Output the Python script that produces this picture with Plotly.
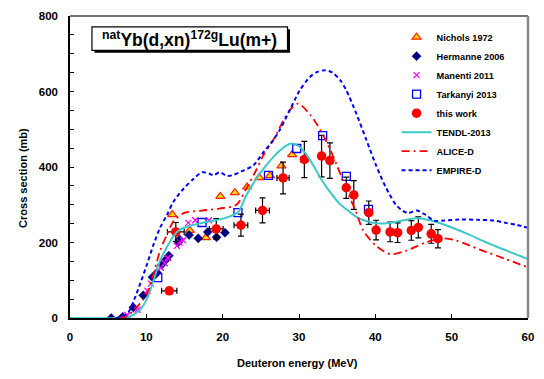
import plotly.graph_objects as go

# ---------------- data ----------------
nichols_x = [13.4, 15.7, 17.8, 19.7, 21.6, 23.2, 24.8, 26.2, 27.7, 29.1]
nichols_y = [274, 232, 213, 322, 332, 347, 372, 377, 403, 433]

hermanne_x = [5.4, 6.9, 8.3, 9.6, 10.8, 11.4, 12.0, 12.6, 12.95, 14.2, 14.35, 15.6, 16.8, 18.05, 19.2, 20.3]
hermanne_y = [0, 3, 28, 60, 108, 120, 141, 155, 165, 201, 208, 220, 211, 228, 214, 226]

manenti_x = [7.5, 8.85, 10.15, 10.6, 11.9, 12.4, 12.8, 14.0, 14.35, 14.8, 15.5, 16.4, 18.2]
manenti_y = [8, 22, 72, 91, 133, 145, 159, 191, 200, 206, 252, 259, 259]

tarkanyi_x = [11.5, 17.3, 22.0, 26.0, 29.7, 33.1, 36.2, 39.1]
tarkanyi_y = [107, 253, 279, 378, 449, 483, 375, 288]

work_x = [13.0, 13.86, 19.16, 22.39, 25.22, 27.91, 30.7, 32.96, 34.05, 36.19, 37.18,
          39.14, 40.1, 41.93, 42.92, 44.71, 45.63, 47.32, 48.2]
work_y = [72, 228, 236, 246, 285, 371, 420, 429, 417, 345, 326, 279, 233, 228, 226, 232, 240, 223, 210]
work_dy = [4, 25, 27, 29, 33, 42, 48, 55, 47, 28, 38, 31, 26, 26, 26, 26, 28, 25, 24]
work_dx = [1.0, 1.1, 0.9, 0.9, 0.9, 0.8, 0.45, 0.4, 0.4, 0.35, 0.35, 0.35, 0.3, 0.3, 0.3, 0.3, 0.3, 0.3, 0.3]

tendl_x = [0, 6.5, 7.5, 8.3, 9.2, 10.1, 10.95, 11.8, 12.7, 13.55, 14.4, 16.2, 18.3, 20.5, 22.0,
           23.1, 24.4, 25.7, 27.0, 28.0, 29.0, 30.0, 31.0, 32.0, 33.0, 34.2, 35.3, 36.2, 37.5,
           38.8, 40.2, 41.5, 43.6, 45.5, 47.9, 50.1, 52.3, 54.0, 56.0, 58.0, 60.0]
tendl_y = [0, 0, 2, 8, 22, 52, 100, 152, 188, 217, 234, 247, 256, 266, 280,
           325, 369, 404, 434, 452, 462, 455, 432, 400, 365, 330, 303, 288, 268,
           257, 251, 251, 258, 264, 255, 239, 221, 205, 188, 172, 156]

alice_x = [6.5, 7.5, 8.8, 10.1, 10.95, 11.8, 12.7, 13.55, 14.9, 17.0, 19.6, 21.8, 23.1, 24.4,
           25.3, 26.6, 28.0, 28.9, 29.9, 31.4, 32.5, 33.6, 34.9, 36.2, 37.5, 38.4, 40.1, 42.0,
           44.0, 46.6, 48.8, 50.5, 53.6, 57.1, 60.0]
alice_y = [0, 5, 30, 65, 117, 178, 221, 256, 278, 284, 290, 300, 343, 392,
           430, 470, 525, 553, 568, 540, 508, 467, 408, 340, 280, 232, 191, 169,
           178, 200, 211, 206, 182, 156, 134]

empire_x = [6.0, 6.8, 7.7, 8.4, 9.2, 10.1, 10.95, 11.8, 12.7, 13.55, 14.9, 16.2, 17.3, 18.2,
            18.8, 19.6, 20.6, 21.4, 22.4, 24.0, 25.3, 26.4, 27.5, 28.8, 30.1, 31.4, 32.4, 33.4,
            34.4, 35.4, 36.2, 37.5, 38.8, 40.1, 41.4, 42.7, 43.6, 44.3, 45.4, 46.6, 47.7, 49.0,
            51.0, 53.5, 55.5, 57.1, 58.5, 60.0]
empire_y = [0, 3, 17, 48, 91, 143, 195, 239, 273, 308, 343, 369, 386, 383,
            378, 386, 376, 379, 388, 404, 438, 465, 499, 551, 603, 638, 652, 656,
            650, 630, 603, 542, 473, 404, 345, 300, 284, 278, 285, 273, 258, 258,
            261, 260, 258, 252, 247, 239]

x_ticks = [0, 10, 20, 30, 40, 50, 60]
y_ticks = [0, 200, 400, 600, 800]

FONT = "Liberation Sans, Arial, sans-serif"

fig = go.Figure()

fig.add_trace(go.Scatter(x=nichols_x, y=nichols_y, mode="markers", name="Nichols 1972",
                         marker=dict(symbol="triangle-up", size=8, color="#FFD800",
                                     line=dict(color="#FF2000", width=1.2))))
fig.add_trace(go.Scatter(x=hermanne_x, y=hermanne_y, mode="markers", name="Hermanne 2006",
                         marker=dict(symbol="diamond", size=7, color="#000080",
                                     line=dict(color="#000080", width=0.5))))
fig.add_trace(go.Scatter(x=manenti_x, y=manenti_y, mode="markers", name="Manenti 2011",
                         marker=dict(symbol="x-thin-open", size=6, color="#FF00FF",
                                     line=dict(color="#FF00FF", width=1.3))))
fig.add_trace(go.Scatter(x=tarkanyi_x, y=tarkanyi_y, mode="markers", name="Tarkanyi 2013",
                         marker=dict(symbol="square-open", size=8, color="#0000FF",
                                     line=dict(color="#0000FF", width=1.3))))
fig.add_trace(go.Scatter(x=work_x, y=work_y, mode="markers", name="this work",
                         marker=dict(symbol="circle", size=9.5, color="#FF0000",
                                     line=dict(width=0)),
                         error_y=dict(type="data", array=work_dy, color="black", thickness=1.2, width=3),
                         error_x=dict(type="data", array=work_dx, color="black", thickness=1.2, width=3)))
fig.add_trace(go.Scatter(x=tendl_x, y=tendl_y, mode="lines", name="TENDL-2013",
                         line=dict(color="#3CC8C8", width=2, shape="spline", smoothing=0.8)))
fig.add_trace(go.Scatter(x=alice_x, y=alice_y, mode="lines", name="ALICE-D",
                         line=dict(color="#FF0000", width=1.8, dash="8px,4px,2px,4px",
                                   shape="spline", smoothing=0.8)))
fig.add_trace(go.Scatter(x=empire_x, y=empire_y, mode="lines", name="EMPIRE-D",
                         line=dict(color="#0000FF", width=2, dash="4px,3px",
                                   shape="spline", smoothing=0.8)))

fig.update_layout(
    width=544, height=379,
    margin=dict(l=70, r=15, t=10, b=61),
    paper_bgcolor="white", plot_bgcolor="white",
    font=dict(family=FONT, color="black"),
    showlegend=True,
    legend=dict(x=0.713, y=0.978, xanchor="left", yanchor="top",
                bgcolor="rgba(0,0,0,0)", borderwidth=0,
                font=dict(family=FONT, size=9.2, weight="bold", color="black"),
                itemwidth=30, tracegroupgap=0),
    xaxis=dict(range=[0, 60], tickvals=x_ticks, ticks="inside", ticklen=4, tickwidth=1,
               tickcolor="black", showline=True, linecolor="black", linewidth=1.5,
               showgrid=False, zeroline=False, ticklabelstandoff=7,
               tickfont=dict(family=FONT, size=11.5, weight="bold")),
    yaxis=dict(range=[0, 800], tickvals=y_ticks, ticks="inside", ticklen=4, tickwidth=1,
               tickcolor="black", showline=True, linecolor="black", linewidth=1.5,
               showgrid=False, zeroline=False, ticklabelstandoff=8,
               minor=dict(dtick=50, ticks="inside", ticklen=4, tickcolor="black", showgrid=False),
               tickfont=dict(family=FONT, size=11.5, weight="bold")),
)

# frame (top and right)
fig.add_shape(type="line", xref="paper", yref="paper", x0=0, x1=1, y0=1, y1=1,
              line=dict(color="#444444", width=1.5))
fig.add_shape(type="line", xref="paper", yref="paper", x0=1, x1=1, y0=0, y1=1,
              line=dict(color="#888888", width=2.5))

# title box with shadow (pixel -> paper)
def px2x(p):
    return (p - 70) / 459.0

def py2y(p):
    return (318 - p) / 308.0

fig.add_shape(type="rect", xref="paper", yref="paper",
              x0=px2x(94.5), x1=px2x(290.5), y0=py2y(47.5), y1=py2y(23.5),
              fillcolor="black", line=dict(width=0))
fig.add_shape(type="rect", xref="paper", yref="paper",
              x0=px2x(92), x1=px2x(288), y0=py2y(45), y1=py2y(21),
              fillcolor="white", line=dict(color="black", width=1.2))
fig.add_annotation(xref="paper", yref="paper", x=px2x(190), y=py2y(33.5),
                   xanchor="center", yanchor="middle", showarrow=False,
                   text="<sup>nat</sup>Yb(d,xn)<sup>172g</sup>Lu(m+)",
                   font=dict(family=FONT, size=17.5, weight="bold", color="black"))

# axis titles
fig.add_annotation(xref="paper", yref="paper", x=px2x(298), y=py2y(364),
                   xanchor="center", yanchor="middle", showarrow=False,
                   text="Deuteron energy (MeV)",
                   font=dict(family=FONT, size=11, weight="bold", color="black"))
fig.add_annotation(xref="paper", yref="paper", x=px2x(23), y=py2y(175),
                   xanchor="center", yanchor="middle", showarrow=False, textangle=-90,
                   text="Cross section (mb)",
                   font=dict(family=FONT, size=11, weight="bold", color="black"))

fig.write_html("out.html")
